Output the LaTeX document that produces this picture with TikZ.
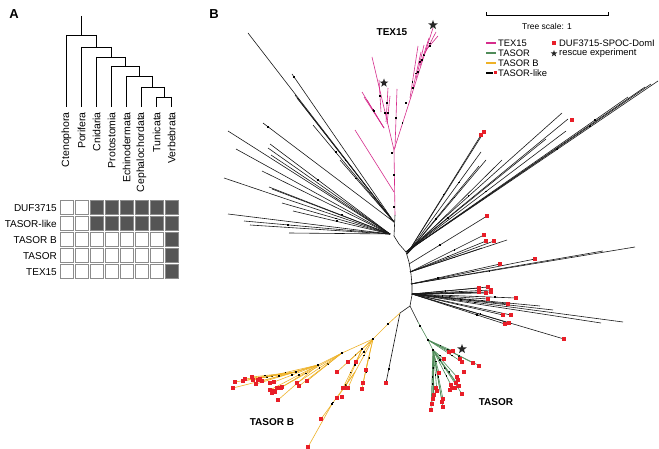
\documentclass[tikz,border=0pt]{standalone}
\usepackage{fontspec}
\setmainfont{Liberation Sans}
\usetikzlibrary{shapes.geometric,calc}
\definecolor{texc}{RGB}{214,45,140}
\definecolor{tasc}{RGB}{80,140,90}
\definecolor{tasbc}{RGB}{238,178,40}
\definecolor{redc}{RGB}{232,30,40}
\definecolor{cellg}{RGB}{85,85,85}
\definecolor{cellb}{RGB}{140,140,140}
\tikzset{
 br/.style={line width=0.6pt, black!90},
 texbr/.style={line width=0.6pt, texc},
 tasbr/.style={line width=0.6pt, tasc},
 tasbbr/.style={line width=0.6pt, tasbc},
 atree/.style={line width=0.9pt, black},
 leaf/.style={rotate=90, anchor=east, font=\fontsize{10.5}{12}\selectfont, inner sep=0pt},
 rowlab/.style={anchor=east, font=\fontsize{10}{12}\selectfont, inner sep=0pt},
 clade/.style={font=\fontsize{10}{12}\selectfont\bfseries, inner sep=0pt},
 panel/.style={font=\fontsize{13}{15}\selectfont\bfseries, inner sep=0pt},
 leg/.style={anchor=west, font=\fontsize{9.4}{11}\selectfont, inner sep=0pt},
 legline/.style={line width=1.1pt},
 starmark/.style={star, star points=5, star point ratio=2.4, fill=black!85, inner sep=0pt, minimum size=#1},
}
\newcommand\rsqs[1]{\foreach \px/\py in {#1}{\fill[redc] (\px,\py) ++(-1.7,-1.7) rectangle ++(3.4,3.4);}}
\newcommand\bdots[1]{\foreach \px/\py in {#1}{\fill[black] (\px,\py) ++(-0.9,-0.9) rectangle ++(1.8,1.8);}}
% #1 hub, #2 style, #3 list ex/ey/t (t=0: no dot)
\newcommand\fan[3]{\foreach \ex/\ey/\tq in {#3}{\draw[#2] #1 -- (\ex,\ey);
  \ifdim\tq pt>0pt \fill[black] ($#1!\tq!(\ex,\ey)$) ++(-0.9,-0.9) rectangle ++(1.8,1.8);\fi}}
\begin{document}
\begin{tikzpicture}[x=1pt,y=-1pt]
\useasboundingbox (0,0) rectangle (659,449);
\fill[white] (0,0) rectangle (659,449);

% ---------------- Panel A ----------------
\node[panel] (lA) at (14,14) {A};
\draw[atree] (81.4,16)--(81.4,35);
\draw[atree] (66.5,35)--(96.3,35);
\draw[atree] (96.3,35)--(96.3,47);  \draw[atree] (81.5,47)--(111,47);
\draw[atree] (111,47)--(111,57);    \draw[atree] (96.5,57)--(125.6,57);
\draw[atree] (125.6,57)--(125.6,66); \draw[atree] (111.5,66)--(139.6,66);
\draw[atree] (139.6,66)--(139.6,76); \draw[atree] (126.5,76)--(152.8,76);
\draw[atree] (152.8,76)--(152.8,87); \draw[atree] (141.5,87)--(164,87);
\draw[atree] (164,87)--(164,97);     \draw[atree] (156.5,97)--(171.5,97);
\foreach \lx/\ly in {66.5/35,81.5/47,96.5/57,111.5/66,126.5/76,141.5/87,156.5/97,171.5/97}
  {\draw[atree] (\lx,\ly)--(\lx,107);}
\node[leaf] (t1) at (66.5,112) {Ctenophora};
\node[leaf] (t2) at (81.5,112) {Porifera};
\node[leaf] (t3) at (96.5,112) {Cnidaria};
\node[leaf] (t4) at (111.5,112) {Protostomia};
\node[leaf] (t5) at (126.5,112) {Echinodermata};
\node[leaf] (t6) at (141.5,112) {Cephalochordata};
\node[leaf] (t7) at (156.5,112) {Tunicata};
\node[leaf] (t8) at (171.5,112) {Verbebrata};

\foreach \r in {0,...,4}{\foreach \c in {0,...,7}{
  \pgfmathtruncatemacro\filled{((\r<2) && (\c>1)) || (\c==7) ? 1 : 0}
  \ifnum\filled=1 \def\cellfill{cellg}\else\def\cellfill{white}\fi
  \filldraw[fill=\cellfill, draw=cellb, line width=0.6pt] (59+15*\c+0.9,199+16*\r+0.9) rectangle +(13.2,14.2);
}}
\node[rowlab] (r1) at (57,208) {DUF3715};
\node[rowlab] (r2) at (57,224) {TASOR-like};
\node[rowlab] (r3) at (57,240) {TASOR B};
\node[rowlab] (r4) at (57,256) {TASOR};
\node[rowlab] (r5) at (57,272) {TEX15};

% ---------------- Panel B ----------------
\node[panel] (lB) at (214,14) {B};
% scale bar
\draw[line width=0.8pt] (486,12.5)--(486,15)--(608,15)--(608,12.5);
\node[font=\fontsize{8.5}{10}\selectfont, inner sep=0pt] (scl) at (547,26) {Tree scale: 1};
% legend
\draw[texc, legline] (486,43)--(496,43);
\node[leg] (g1) at (498,43) {TEX15};
\draw[tasc, legline] (486,53)--(496,53);
\node[leg] (g2) at (498,53) {TASOR};
\draw[tasbc, legline] (486,63)--(496,63);
\node[leg] (g3) at (498,63) {TASOR B};
\draw[black, legline] (486,73)--(493,73);
\fill[redc] (493.5,71.5) rectangle (496.5,74.5);
\node[leg] (g4) at (498,73) {TASOR-like};
\fill[redc] (552.3,41.3) rectangle (555.7,44.7);
\node[leg] (g5) at (559,43) {DUF3715-SPOC-DomI};
\node[starmark=7pt] (gs) at (554,53.5) {};
\node[leg] (g6) at (559,53) {rescue experiment};

% backbone
\draw[br] (395,215)--(394,236)--(399,244)--(406,252)--(409,262)--(411,274)--(412,285)--(412,295)--(410,306);

% upper-left black fan
\fan{(394,222)}{br}{248/33/0, 292/74/0.98, 295/95/0, 297/98/0.5, 263/123/0.96, 313/125/0.72, 340/160/0.7}
\fan{(390,234)}{br}{228/131/0, 236/149/0, 270/144/0.6, 268/148/0, 271/155/0.45, 262/171/0, 224/178/0, 269/187/0.4, 272/189/0, 282/203/0.5, 293/211/0.55, 228/214/0, 244/221/0.7, 250/225/0, 289/233/0.47}

% TEX15 clade
\draw[texbr] (395,215)--(394,150);
\draw[texbr] (394,192)--(355,130);
\fan{(394,150)}{texbr}{433/28/0.22, 372/57/0.4}
\bdots{394/207,394/175,392/153}
\draw[texbr] (395,148)--(397,89);
\bdots{396/118}
\fan{(384,128)}{texbr}{362/92/0.5, 364/97/0, 367/100/0.6}
\fan{(386,122)}{texbr}{388/88/0.55}
\fan{(387,124)}{texbr}{390/96/0.4}
\fan{(381,112)}{texbr}{379/80/0.5}
\fan{(410,98)}{texbr}{418/46/0.3}
\fan{(413,88)}{texbr}{421/52/0.4}
\fan{(416,79)}{texbr}{424/45/0.5}
\fan{(420,66)}{texbr}{429/38/0.4}
\fan{(424,55)}{texbr}{436/32/0.5}
\fan{(426,50)}{texbr}{438/36/0.3}
\bdots{406/103,413/88,418/72,422/60}
\node[starmark=10pt] (s1) at (433,25) {};
\node[starmark=9pt] (s2) at (384,83) {};
\node[clade] (cTEX) at (392,32) {TEX15};

% right black fans
\fan{(406,252)}{br}{658/81/0.6, 651/84/0.75, 645/87/0, 628/97/0.85, 562/113/0.4, 568/119/0, 566/131/0.5, 546/139/0.3}
\fan{(407,254)}{br}{481/135/0.5, 484/132/0, 481/152/0.7, 486/160/0.6, 502/160/0, 479/166/0.4}
\fan{(409,264)}{br}{487/216/0.4}
\fan{(410,272)}{br}{484/235/0.6, 486/241/0.5, 494/241/0, 507/240/0.45, 482/248/0}
\fan{(411,284)}{br}{635/247/0.35, 603/251/0, 535/259/0.5, 500/264/0.3}
\fan{(412,294)}{br}{479/288/0.5, 488/287/0, 491/290/0.6, 479/292/0, 486/293/0.55, 491/292/0, 516/298/0.8, 488/299/0.4, 508/304/0.6, 503/315/0.5, 511/315/0, 505/324/0.7, 509/323/0, 564/339/0.45, 553/310/0.35, 623/322/0.3, 601/323/0, 540/306/0.55}
\rsqs{572/120,481/135,484/132,487/216,484/235,486/241,494/241,500/264,535/259,479/288,488/287,491/290,479/292,486/293,491/292,516/298,488/299,508/304,503/315,511/315,505/324,509/323,564/339}

% TASOR clade
\draw[br] (410,306)--(418,322);
\draw[tasbr] (418,322)--(428,340);
\fan{(428,340)}{tasbr}{480/366/0.6, 473/363/0.45, 462/362/0.7, 453/351/0.5, 449/352/0, 433/350/0}
\fan{(433,350)}{tasbr}{431/410/0.3, 432/404/0.5, 433/399/0.7, 434/395/0.4, 437/391/0.6, 443/407/0.35, 442/402/0, 443/399/0.55, 462/394/0.4, 459/386/0.6, 456/383/0.3, 451/385/0.75, 457/377/0, 439/373/0.5, 444/359/0.6}
\rsqs{449/352,453/351,460/359,462/362,473/363,479/366,464/372,444/359,439/373,457/377,458/380,456/383,451/385,452/388,455/388,459/386,462/394,450/390,437/391,434/395,433/399,432/404,431/410,443/399,443/407,442/402,436/388}
\bdots{420/326,428/340,433/350}
\node[starmark=10pt] (s3) at (462,349) {};
\node[clade] (cTAS) at (496,402) {TASOR};

% TASOR B clade
\draw[br] (410,306)--(400,313);
\fan{(400,313)}{br}{386/383/0.8}
\draw[tasbbr] (400,313)--(388,324)--(373,339);
\fan{(373,339)}{tasbbr}{366/370/0.6, 368/360/0, 355/372/0.5, 362/349/0, 348/362/0.7, 356/362/0.55, 342/353/0}
\fan{(368,360)}{tasbbr}{362/389/0.4, 363/383/0}
\fan{(355,372)}{tasbbr}{332/404/0.95, 337/398/0.5, 348/388/0}
\fan{(332,404)}{tasbbr}{308/447/0, 321/419/0}
\fan{(362,349)}{tasbbr}{343/388/0.6, 345/388/0.4, 337/372/0.5}
\draw[tasbbr] (342,353)--(318,365)--(296,372)--(233,388);
\fan{(296,372)}{tasbbr}{235/382/0.4, 243/381/0.55, 245/379/0, 252/377/0.7}
\fan{(318,365)}{tasbbr}{253/380/0.5, 256/384/0, 262/381/0.7, 270/390/0.4, 278/400/0.5, 274/382/0.6, 272/393/0}
\fan{(342,353)}{tasbbr}{282/387/0.6, 297/383/0.5, 307/381/0.4, 299/386/0}
\rsqs{386/383,337/372,348/362,356/362,343/388,345/388,348/388,337/398,342/397,363/383,362/389,366/370,321/419,308/447,235/382,233/388,243/381,245/379,252/377,253/380,256/384,258/380,260/379,262/381,270/383,274/382,270/390,273/391,275/392,272/393,278/400,281/388,282/387,277/388,297/383,299/386,307/381}
\bdots{388/324,373/339,342/353,362/349,318/365,296/372,332/404}
\node[clade] (cTASB) at (272,422) {TASOR B};
\end{tikzpicture}
\end{document}
